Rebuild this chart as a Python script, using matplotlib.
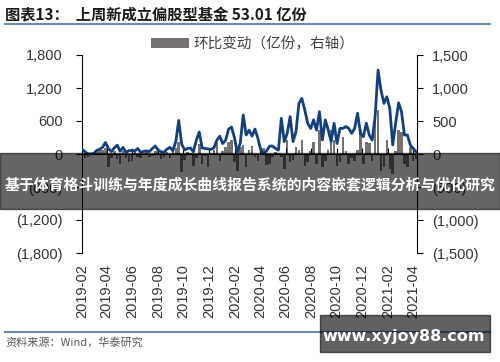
import numpy as np
import pandas as pd
import matplotlib
matplotlib.use("Agg")
import matplotlib.pyplot as plt
import matplotlib.dates as mdates
from matplotlib.ticker import MultipleLocator, FuncFormatter
from matplotlib.patches import Rectangle
from matplotlib.lines import Line2D

plt.rcParams['font.family'] = ['Liberation Sans', 'Noto Sans CJK SC', 'DejaVu Sans']

# weekly new equity fund shares (亿份, left axis)
new_shares = [90, 40, 5, 0, 10, 65, 85, 120, 210, 100, 45, 110, 160, 50, 120, 30,
              60, 65, 55, 100, 30, 50, 55, 45, 100, 145, 70, 40, 30, 90, 120, 60,
              230, 610, 180, 75, 100, 110, 40, 250, 400, 110, 100, 90, 85, 110, 250,
              325, 190, 250, 450, 490, 300, 30, 200, 710,
              345, 435, 325, 455, 285, 70, 10, 60, 145, 145, 100, 70, 650, 225, 375,
              680, 225, 405, 920, 1010, 800, 560, 465, 620, 435, 770, 255, 620, 435,
              225, 560, 190, 465, 465, 500, 465, 375, 465, 740, 375, 315, 560, 345,
              255, 680, 1525, 1160, 920, 1040, 830, 165, 560, 930, 770, 345, 345,
              165, 100, 40]
# week-over-week change (亿份, right axis)
wow_change = [80, -60, -50, -20, 10, 40, 70, 60, 90, -200, -60, 50, -80, -150, 40, -60,
              -120, -100, 30, -40, -60, 20, 30, -40, -30, 40, 60, -80, -40, 30, -60, 50,
              90, 180, -280, -90, 30, 20, -180, -60, 150, -150, -30, -200, 20, 60, 160,
              -100, 50, 100, 185, 210, -120, -250, 100, 135, -200, 60, 120, -50, -100,
              40, 85, -160, -150, -40, 30, 20, -50, -220, 210, -120, -90, 100, 60, 210,
              -180, -120, 40, 185, -150, 365, -200, -100, 60, 365, 210, -180, -120, 260,
              50, -150, -60, -100, 60, 365, -150, 185, 160, -100, 590, 665, -250, -200,
              210, -230, -300, 40, 365, 340, -150, -200, 110, -100, -80]
dates = pd.date_range("2019-02-01", periods=len(new_shares), freq="7D")

title = "图表13：  上周新成立偏股型基金 53.01 亿份"
legend_label = "环比变动（亿份，右轴）"
source = "资料来源：Wind，华泰研究"
banner = "基于体育格斗训练与年度成长曲线报告系统的内容嵌套逻辑分析与优化研究"
watermark = "www.xyjoy88.com"


def paren(v, pos):
    if v < 0:
        return "({:,.0f})".format(-v)
    return "{:,.0f}".format(v)


W, H = 500, 362
fig = plt.figure(figsize=(5, 3.62), dpi=100)
ax = fig.add_axes([82 / W, 1 - 253 / H, 335 / W, 198 / H])
ax2 = ax.twinx()

bars = ax2.bar(dates, wow_change, width=6, color="#767171", label=legend_label)
ax.plot(dates, new_shares, color="#123f80", lw=2.0, zorder=3)
ax.set_zorder(ax2.get_zorder() + 1)
ax.patch.set_visible(False)

ax.set_xlim(pd.Timestamp("2019-02-01"), pd.Timestamp("2021-04-11"))
ax.set_ylim(-1800, 1800)
ax2.set_ylim(-1500, 1500)
ax.yaxis.set_major_locator(MultipleLocator(600))
ax2.yaxis.set_major_locator(MultipleLocator(500))
ax.yaxis.set_major_formatter(FuncFormatter(paren))
ax2.yaxis.set_major_formatter(FuncFormatter(paren))

months = mdates.MonthLocator(bymonth=(2, 4, 6, 8, 10, 12))
ax.xaxis.set_major_locator(months)
ax.xaxis.set_major_formatter(mdates.DateFormatter("%Y-%m"))
ax.tick_params(axis="x", length=0, pad=8, labelsize=10.5, labelcolor="#333333",
               labelrotation=90)
ax.tick_params(axis="y", length=4, pad=10, labelsize=10.5, labelcolor="#333333")
ax2.tick_params(axis="y", length=4, pad=7, labelsize=10.5, labelcolor="#333333")

for s in ["top", "right", "bottom"]:
    ax.spines[s].set_visible(False)
for s in ["top", "left", "bottom"]:
    ax2.spines[s].set_visible(False)

# zero line with its own ticks
zero = ax.secondary_xaxis(0.5)
zero.xaxis.set_major_locator(months)
zero.tick_params(axis="x", length=4, labelbottom=False, labeltop=False)

fig.legend(handles=[bars], loc="center", bbox_to_anchor=(253 / W, 1 - 44 / H),
           frameon=False, fontsize=10.5, handlelength=2.6, handleheight=0.65,
           handletextpad=0.3, labelcolor="#404040")

fig.text(5 / W, 1 - 15 / H, title, fontsize=11, fontweight="bold", color="#1a1a1a",
         va="center", ha="left", family=["Noto Sans CJK SC", "DejaVu Sans"])
fig.add_artist(Line2D([5 / W, 490 / W], [1 - 24 / H] * 2, color="#6a8bb5", lw=1.5))
fig.add_artist(Line2D([5 / W, 490 / W], [1 - 332 / H] * 2, color="#6a8bb5", lw=1.5))
fig.text(5 / W, 1 - 342 / H, source, fontsize=8, color="#595959", va="center",
         ha="left", family=["Noto Sans CJK SC", "DejaVu Sans"])

# overlays on top of the chart
fig.patches.append(Rectangle((0, 1 - 209 / H), 1, 56 / H, transform=fig.transFigure,
                             color="black", alpha=0.6, zorder=10))
fig.text(250 / W, 1 - 184 / H, banner, fontsize=10.7, fontweight="bold", color="white",
         ha="center", va="center", zorder=11, family=["Noto Sans CJK SC", "DejaVu Sans"])
fig.patches.append(Rectangle((320 / W, 1 - 352 / H), 170 / W, 37 / H,
                             transform=fig.transFigure, color="black", alpha=0.62,
                             zorder=10))
fig.text(404 / W, 1 - 336 / H, watermark, fontsize=11.5, fontweight="bold", color="white",
         ha="center", va="center", zorder=11, family="DejaVu Sans")

fig.savefig("out.png", dpi=100)
